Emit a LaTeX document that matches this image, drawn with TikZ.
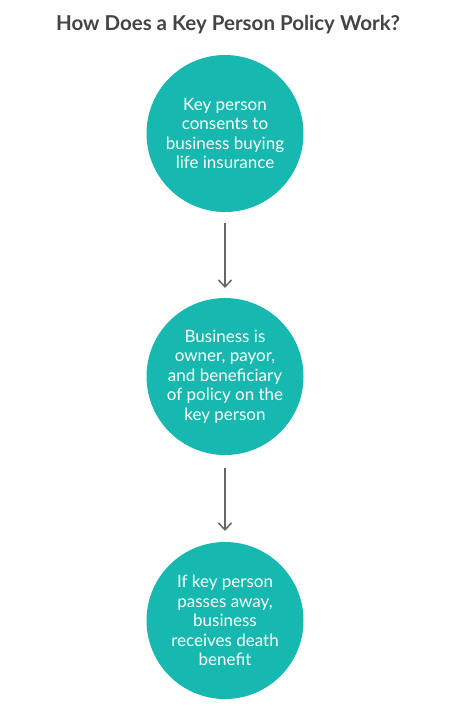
\documentclass[tikz,border=0pt]{standalone}
\usepackage{fontspec}
\setmainfont{Lato}
\usetikzlibrary{positioning, arrows.meta}
\definecolor{stepteal}{HTML}{17B8AF}
\definecolor{titlegray}{HTML}{444444}
\definecolor{arrowgray}{HTML}{666666}
\tikzset{
  stepcircle/.style={
    circle,
    fill=stepteal,
    minimum size=157pt,
    inner sep=0pt,
    outer sep=0pt,
    align=center,
    text=white,
    font=\fontsize{17}{19.5}\selectfont
  },
  flow/.style={
    draw=arrowgray,
    line width=1.5pt,
    -{Straight Barb[length=7pt,width=13pt,line width=1.5pt]}
  }
}

\begin{document}
\begin{tikzpicture}[x=1pt, y=1pt]
        \useasboundingbox (0,0) rectangle (450,-717);
        \node[anchor=base, text=titlegray, font=\fontsize{20.5}{24}\bfseries\selectfont] (title) at (228,-30.5) {How Does a Key Person Policy Work?};

        \node[stepcircle] (consent) at (225,-133.5) {Key person\\consents to\\business buying\\life insurance};
        \node[stepcircle, below=86pt of consent] (owner) {Business is\\owner, payor,\\and beneficiary\\of policy on the\\key person};
        \node[stepcircle, below=87pt of owner] (benefit) {If key person\\passes away,\\business\\receives death\\benefit};

        \draw[flow, shorten <=11pt, shorten >=10pt] (consent) -- (owner);
        \draw[flow, shorten <=13pt, shorten >=11pt] (owner) -- (benefit);
      \end{tikzpicture}
\end{document}
